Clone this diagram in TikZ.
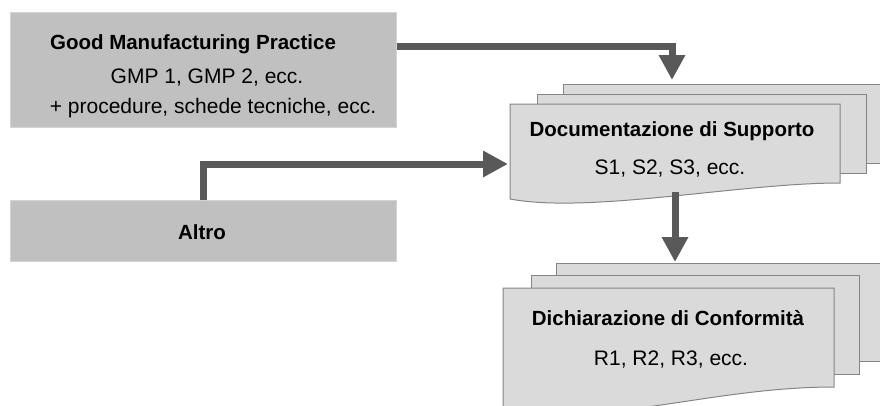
\documentclass[tikz,border=0pt]{standalone}
\usepackage{fontspec}
\setmainfont{Liberation Sans}
\usetikzlibrary{arrows.meta}
\definecolor{boxfill}{HTML}{C0C0C0}
\definecolor{boxedge}{HTML}{D4D4D4}
\definecolor{pagefill}{HTML}{DADADA}
\definecolor{pageedge}{HTML}{858585}
\definecolor{arrowcol}{HTML}{595959}
\tikzset{
  x=1pt, y=-1pt,
  srcbox/.style={draw=boxedge, line width=0.8pt, fill=boxfill, inner sep=0pt},
  pagebox/.style={draw=pageedge, line width=1pt, fill=pagefill},
  flow/.style={draw=arrowcol, line width=7pt, -{Triangle[width=25pt,length=25pt]}},
  titletext/.style={font=\fontsize{20.5}{24}\selectfont\bfseries},
  bodytext/.style={font=\fontsize{21}{25}\selectfont},
}
\begin{document}
\begin{tikzpicture}
\useasboundingbox (0,0) rectangle (880,405);
% source boxes
\node[srcbox, minimum width=386pt, minimum height=115pt, anchor=north west] (gmp) at (10,12) {};
\node[titletext] (gmpt) at (193,44) {Good Manufacturing Practice};
\node[bodytext] (gmp1) at (207,78) {GMP 1, GMP 2, ecc.};
\node[bodytext] (gmp2) at (213,108) {+ procedure, schede tecniche, ecc.};
\node[srcbox, minimum width=386pt, minimum height=61pt, anchor=north west] (altro) at (10,200) {};
\node[titletext] (altrot) at (202,232) {Altro};
% support stack
\draw[pagebox] (563,84) -- (890,84) -- (890,163) -- (563,163) -- cycle;
\draw[pagebox] (537,94) -- (866,94) -- (866,173) -- (537,173) -- cycle;
\draw[pagebox] (510,104) -- (840,104) -- (840,183) .. controls (740,183) and (590,214) .. (510,199) -- cycle;
\coordinate (sup3) at (672,84);
\coordinate (supin) at (510,164);
\coordinate (supout) at (675,192);
\node[titletext] (supt) at (672,131) {Documentazione di Supporto};
\node[bodytext] (sups) at (670,169) {S1, S2, S3, ecc.};
% conformity stack
\draw[pagebox] (556,263) -- (890,263) -- (890,361) -- (556,361) -- cycle;
\draw[pagebox] (531,275) -- (859,275) -- (859,374) -- (531,374) -- cycle;
\draw[pagebox] (503,288) -- (834,288) -- (834,387) .. controls (710,387) and (605,428) .. (503,409) -- cycle;
\coordinate (dic3) at (675,263);
\node[titletext] (dict) at (668,318) {Dichiarazione di Conformità};
\node[bodytext] (dics) at (671,360) {R1, R2, R3, ecc.};
% connectors
\draw[flow] ([yshift=23.5pt]gmp.east) -| ([yshift=4pt]sup3);
\draw[flow] (altro.north) |- ([xshift=-2pt]supin);
\draw[flow] (supout) -- ([yshift=1pt]dic3);
\end{tikzpicture}
\end{document}
